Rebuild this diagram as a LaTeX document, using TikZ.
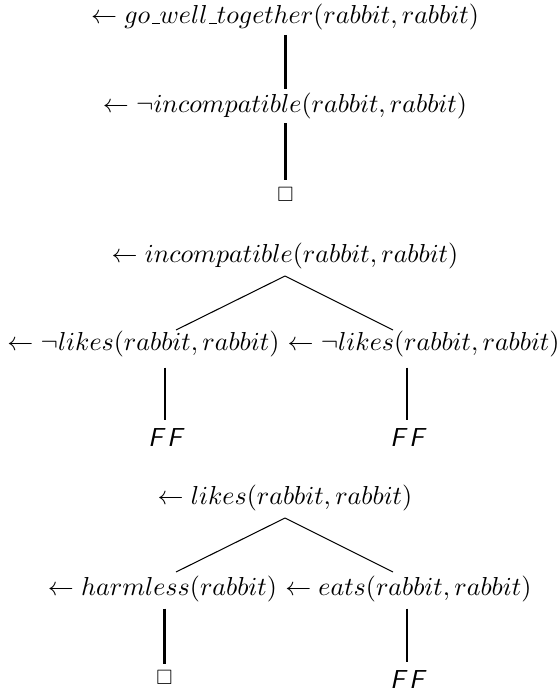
\documentclass[tikz,border=0pt]{standalone}
\usepackage{amssymb}
\usetikzlibrary{positioning}

\newcommand{\uscore}{\kern.06em\vbox{\hrule width.3em}}

\tikzset{
  clause/.style={inner xsep=0pt,inner ysep=1.5pt},
  stem/.style={line width=0.9pt},
  branch/.style={line width=0.4pt},
  failure/.style={inner sep=3pt,font=\sffamily\itshape},
  emptyclause/.style={scale=0.8,inner sep=3pt}
}

\begin{document}
\begin{tikzpicture}[x=0.3846pt,y=-0.3846pt]
\useasboundingbox (0,0) rectangle (559,691);

% go_well_together
\node[clause,anchor=base] (gwt) at (285,24) {$\leftarrow go\uscore well\uscore together(rabbit, rabbit)$};
\node[clause,anchor=base] (ninc) at (285,112.5) {$\leftarrow \neg incompatible(rabbit, rabbit)$};
\node[emptyclause] (ok1) at (285.5,194) {$\square$};
\draw[stem] (gwt.south -| ok1) -- (ninc.north -| ok1);
\draw[stem] (ninc.south -| ok1) -- (ok1);

% incompatible
\node[clause,anchor=base] (inc) at (285,262.5) {$\leftarrow incompatible(rabbit, rabbit)$};
\node[clause,anchor=base east] (nlk1) at (279.9,351) {$\leftarrow \neg likes(rabbit, rabbit)$};
\node[clause,anchor=base west] (nlk2) at ([xshift=2.78pt]nlk1.base east) {$\leftarrow \neg likes(rabbit, rabbit)$};
\node[failure,anchor=base] (ff1) at (165,446) {F\,F};
\node[failure,anchor=base] (ff2) at (407,446) {F\,F};
\coordinate (incL) at (176,330);
\coordinate (incR) at (393,330);
\draw[branch] ([yshift=-1pt]inc.south) -- (incL);
\draw[branch] ([yshift=-1pt]inc.south) -- (incR);
\draw[stem,shorten <=2.2pt] (nlk1.south -| ff1) -- (ff1);
\draw[stem,shorten <=2.2pt] (nlk2.south -| ff2) -- (ff2);

% likes
\node[clause,anchor=base] (lk) at (285,504.5) {$\leftarrow likes(rabbit, rabbit)$};
\node[clause,anchor=base east] (hl) at (277.5,595) {$\leftarrow harmless(rabbit)$};
\node[clause,anchor=base west] (eat) at ([xshift=2.78pt]hl.base east) {$\leftarrow eats(rabbit, rabbit)$};
\node[emptyclause] (ok2) at (164.5,677.5) {$\square$};
\node[failure,anchor=base] (ff3) at (407,688) {F\,F};
\coordinate (lkL) at (176,572);
\coordinate (lkR) at (393,572);
\draw[branch] ([yshift=-1pt]lk.south) -- (lkL);
\draw[branch] ([yshift=-1pt]lk.south) -- (lkR);
\draw[stem,shorten <=1pt] (hl.south -| ok2) -- (ok2);
\draw[stem,shorten <=1pt] (eat.south -| ff3) -- (ff3);
\end{tikzpicture}
\end{document}
